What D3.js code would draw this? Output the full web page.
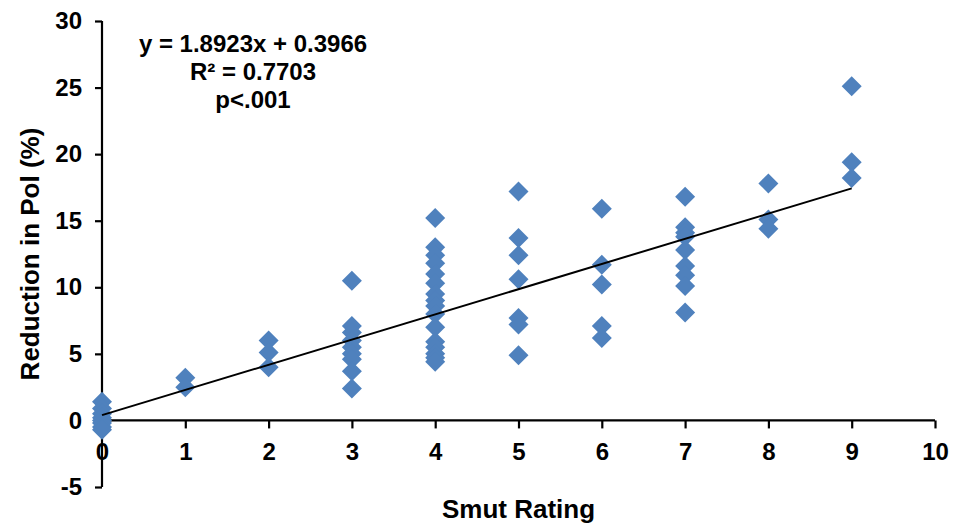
<!DOCTYPE html>
<html><head><meta charset="utf-8">
<script src="https://cdn.jsdelivr.net/npm/d3@7"></script>
<style>body{margin:0;background:#fff;}svg{display:block;font-family:"Liberation Sans",Arial,sans-serif;}</style>
</head><body><svg id="c" width="962" height="523"></svg>
<script>
const xTicks = [0,1,2,3,4,5,6,7,8,9,10];
const yTicks = [-5,0,5,10,15,20,25,30];
const smutRating = [
  0,0,0,0,0,0,0,0,
  1,1,
  2,2,2,
  3,3,3,3,3,3,3,3,3,
  4,4,4,4,4,4,4,4,4,4,4,4,4,4,4,4,
  5,5,5,5,5,5,5,
  6,6,6,6,6,
  7,7,7,7,7,7,7,7,7,
  8,8,8,
  9,9,9
];
const reductionPol = [
  1.4,0.9,0.5,0.2,0.0,-0.2,-0.5,-0.7,
  3.2,2.5,
  6.0,5.1,4.0,
  10.5,7.1,6.6,6.0,5.5,5.0,4.6,3.7,2.4,
  15.2,13.0,12.4,11.8,11.0,10.3,9.5,9.0,8.6,8.0,7.0,5.9,5.5,5.0,4.7,4.4,
  17.2,13.7,12.4,10.6,7.7,7.2,4.9,
  15.9,11.7,10.2,7.1,6.2,
  16.8,14.5,14.1,13.8,12.8,11.6,10.9,10.1,8.1,
  17.8,15.1,14.4,
  25.1,19.4,18.2
];
const fitSlope = 1.8923, fitIntercept = 0.3966, fitRange = [0,9];
const annotation = ["y = 1.8923x + 0.3966","R² = 0.7703","p<.001"];
const xTitle = "Smut Rating", yTitle = "Reduction in Pol (%)";

const svg = d3.select("#c");
const x = d3.scaleLinear().domain([0,10]).range([102,935]);
const y = d3.scaleLinear().domain([-5,30]).range([487,21]);

// y axis
const yAxis = svg.append("g").attr("transform","translate(102,0)")
  .call(d3.axisLeft(y).tickValues(yTicks).tickSize(7).tickPadding(13).tickFormat(d=>String(d)));
yAxis.select(".domain").attr("stroke","#000").attr("stroke-width",2.2).attr("d","M0,"+y(-5)+"V"+y(30));
yAxis.selectAll(".tick line").attr("stroke","#000").attr("stroke-width",2.2);
yAxis.selectAll("text").attr("font-size",24).attr("font-weight","bold").attr("fill","#000");

// x axis at y=0
const xAxis = svg.append("g").attr("transform","translate(0,"+y(0)+")")
  .call(d3.axisBottom(x).tickValues(xTicks).tickSize(8).tickPadding(15).tickFormat(d=>String(d)));
xAxis.select(".domain").attr("stroke","#000").attr("stroke-width",2.2).attr("d","M"+x(0)+",0H"+x(10));
xAxis.selectAll(".tick line").attr("stroke","#000").attr("stroke-width",2.2);
xAxis.selectAll("text").attr("font-size",24).attr("font-weight","bold").attr("fill","#000");

// points
const diamondType = {draw(ctx,size){const r=Math.sqrt(size/2);ctx.moveTo(0,-r);ctx.lineTo(r,0);ctx.lineTo(0,r);ctx.lineTo(-r,0);ctx.closePath();}};
const diamond = d3.symbol().type(diamondType).size(200);
svg.append("g").selectAll("path").data(smutRating.map((s,i)=>[s,reductionPol[i]])).join("path")
  .attr("d",diamond)
  .attr("transform",d=>"translate("+x(d[0])+","+y(d[1])+")")
  .attr("fill","#4F81BD");

// fit line
svg.append("line")
  .attr("x1",x(fitRange[0])).attr("y1",y(fitSlope*fitRange[0]+fitIntercept))
  .attr("x2",x(fitRange[1])).attr("y2",y(fitSlope*fitRange[1]+fitIntercept))
  .attr("stroke","#000").attr("stroke-width",2);

// annotation
svg.append("g").selectAll("text").data(annotation).join("text")
  .attr("x",253).attr("y",(d,i)=>52+i*28).attr("text-anchor","middle")
  .attr("font-size",24).attr("font-weight","bold").text(d=>d);

// titles
svg.append("text").attr("x",x(5)).attr("y",518).attr("text-anchor","middle")
  .attr("font-size",26).attr("font-weight","bold").text(xTitle);
svg.append("text").attr("transform","translate(39,"+y(12.5)+") rotate(-90)").attr("text-anchor","middle")
  .attr("font-size",26).attr("font-weight","bold").text(yTitle);
</script></body></html>
